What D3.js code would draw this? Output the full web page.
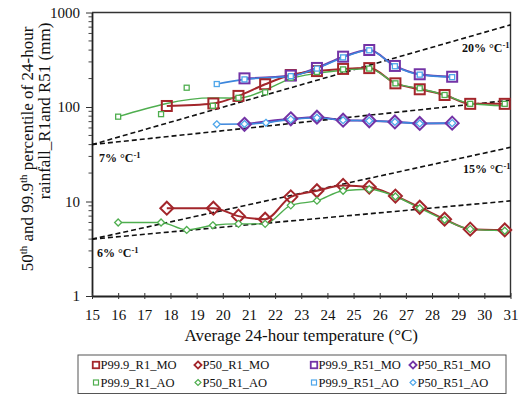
<!DOCTYPE html>
<html>
<head>
<meta charset="utf-8">
<script src="https://cdn.jsdelivr.net/npm/d3@7"></script>
<style>
  html, body { margin: 0; padding: 0; background: #fff; }
  svg { display: block; }
  text { font-family: "Liberation Serif", "Times New Roman", serif; fill: #111; }
</style>
</head>
<body>
<svg id="chart" width="518" height="395"></svg>
<script>
// Bin temperatures (°C)
const tempR1Mo  = [17.86, 19.64, 20.6, 21.62, 22.6, 23.6, 24.6, 25.6, 26.6, 27.53, 28.48, 29.46, 30.78];
const tempR1Ao  = [16.0, 17.64, 18.62, 19.62, 20.6, 21.62, 22.6, 23.6, 24.6, 25.6, 26.6, 27.53, 28.48, 29.46, 30.78];
const tempR51Mo = [20.83, 22.6, 23.6, 24.6, 25.6, 26.58, 27.53, 28.77];
const tempR51AoUpper = [19.77, 20.83, 22.6, 23.6, 24.6, 25.6, 26.58, 27.53, 28.77];
const tempR51AoMedian = [19.77, 20.83, 21.65, 22.6, 23.6, 24.6, 25.6, 26.58, 27.53, 28.77];

// Rainfall percentiles (mm)
const p999R1Mo  = [102.5, 109, 131, 174, 218, 240, 253, 258, 178, 154, 134, 108, 108];
const p50R1Mo   = [8.5, 8.5, 7.0, 6.5, 11.2, 13.0, 14.8, 14.2, 11.4, 8.7, 6.5, 5.1, 5.0];
const p999R1Ao  = [79, 84, 160, 103, 125, 143, 204, 235, 250, 255, 178, 158, 134, 108, 108];
const p50R1Ao   = [6.0, 6.0, 5.0, 5.6, 5.8, 5.8, 9.1, 10.2, 13.0, 13.5, 11.3, 8.5, 6.4, 5.1, 4.9];
const p999R51Mo = [201, 215, 259, 341, 401, 272, 222, 209];
const p50R51Mo  = [65.6, 75, 78, 72.5, 71.5, 69.5, 67, 67.5];
const p999R51Ao = [175, 196, 212, 255, 335, 398, 270, 220, 207];
const p50R51Ao  = [65.6, 66, 68, 74, 77, 72.5, 71.5, 69.5, 67, 67.5];

// Smoothed line for P99.9_R1_AO (the connecting line skips the sparse cool bins)
const trendTempR1Ao = [16.0, 19.62, 20.6, 21.62, 22.6, 23.6, 24.6, 25.6, 26.6, 27.53, 28.48, 29.46, 30.78];
const trendP999R1Ao = [79, 125, 124, 151, 200, 227, 245, 255, 178, 157, 134, 109, 103];

// Clausius-Clapeyron style scaling guides: value at 15 °C and rate per °C
const guideLabels = ["20% °C", "7% °C", "15% °C", "6% °C"];
const guideBase   = [40, 40, 4, 4];
const guideRate   = [0.20, 0.07, 0.15, 0.06];

// Axis ticks
const xTicks = d3.range(15, 32, 1);
const yMajorTicks = [1, 10, 100, 1000];
const yTickLabels = ["1", "10", "100", "1000"];

const svg = d3.select("#chart");
const plot = { left: 92, right: 510.5, top: 12.5, bottom: 296 };

const x = d3.scaleLinear().domain([15, 31]).range([plot.left, plot.right]);
const y = d3.scaleLog().domain([1, 1000]).range([plot.bottom, plot.top]);

const RED = "#a3262b", PURPLE = "#7333a6", GREEN = "#4fae4f", BLUE = "#3d86dc", LBLUE = "#4ea6ea";

// Frame (top and right edges)
svg.append("path")
  .attr("d", `M${plot.left},${plot.top}H${plot.right}V${plot.bottom}`)
  .attr("fill", "none").attr("stroke", "#333").attr("stroke-width", 1.4);

// Y axis with log ticks
const yMinor = [];
for (let d = 1; d < 1000; d *= 10) for (let k = 2; k <= 9; k++) yMinor.push(d * k);
const yAxis = d3.axisLeft(y).tickValues(yMajorTicks)
  .tickFormat((d, i) => yTickLabels[i]).tickSize(6).tickSizeOuter(0);
const gy = svg.append("g").attr("transform", `translate(${plot.left},0)`).call(yAxis);
gy.select(".domain").attr("stroke", "#222").attr("stroke-width", 1.8);
gy.selectAll(".tick line").attr("stroke", "#333").attr("stroke-width", 1);
gy.selectAll(".tick text").attr("font-size", 15).attr("x", -12)
  .style("font-family", "Liberation Serif, serif").attr("fill", "#111");
svg.append("g").selectAll("line").data(yMinor).join("line")
  .attr("x1", plot.left - 3.5).attr("x2", plot.left)
  .attr("y1", d => y(d)).attr("y2", d => y(d))
  .attr("stroke", "#444").attr("stroke-width", 1);

// X axis
const xAxis = d3.axisBottom(x).tickValues(xTicks).tickFormat(d3.format("d"))
  .tickSize(4).tickSizeOuter(0);
const gx = svg.append("g").attr("transform", `translate(0,${plot.bottom})`).call(xAxis);
gx.select(".domain").attr("stroke", "#222").attr("stroke-width", 1.8);
gx.selectAll(".tick line").attr("stroke", "#333").attr("y1", -3).attr("y2", 3);
gx.selectAll(".tick text").attr("font-size", 15).attr("y", 13)
  .style("font-family", "Liberation Serif, serif").attr("fill", "#111");

// Scaling guide lines
const guides = svg.append("g");
guideBase.forEach((b, i) => {
  const end = b * Math.pow(1 + guideRate[i], 31 - 15);
  guides.append("line")
    .attr("x1", x(15)).attr("y1", y(b)).attr("x2", x(31)).attr("y2", y(end))
    .attr("stroke", "#111").attr("stroke-width", 1.6).attr("stroke-dasharray", "5,3");
});
const guidePos = [[462, 52], [99, 162], [463, 173], [97, 257]];
guideLabels.forEach((t, i) => {
  const tx = svg.append("text").attr("x", guidePos[i][0]).attr("y", guidePos[i][1])
    .attr("font-size", 12).attr("font-weight", "bold");
  tx.append("tspan").text(t);
  tx.append("tspan").attr("dy", -4).attr("font-size", 8.5).text("-1");
});

// Series
const line = d3.line().x(d => x(d[0])).y(d => y(d[1])).curve(d3.curveMonotoneX);
const zip = (a, b) => a.map((v, i) => [v, b[i]]);

function drawLine(pts, color, width) {
  svg.append("path").datum(pts).attr("d", line)
    .attr("fill", "none").attr("stroke", color).attr("stroke-width", width);
}
function drawSquares(pts, color, size, sw, fill) {
  svg.append("g").selectAll("rect").data(pts).join("rect")
    .attr("x", d => x(d[0]) - size / 2).attr("y", d => y(d[1]) - size / 2)
    .attr("width", size).attr("height", size)
    .attr("fill", fill).attr("stroke", color).attr("stroke-width", sw);
}
function drawDiamonds(pts, color, r, sw, fill) {
  svg.append("g").selectAll("path").data(pts).join("path")
    .attr("d", d => { const cx = x(d[0]), cy = y(d[1]);
      return `M${cx},${cy - r}L${cx + r},${cy}L${cx},${cy + r}L${cx - r},${cy}Z`; })
    .attr("fill", fill).attr("stroke", color).attr("stroke-width", sw);
}

// connecting lines
drawLine(zip(tempR51Mo, p999R51Mo), PURPLE, 2);
drawLine(zip(tempR51Mo, p50R51Mo), PURPLE, 2);
drawLine(zip(tempR1Mo, p999R1Mo), RED, 2);
drawLine(zip(tempR1Mo, p50R1Mo), RED, 2);
drawLine(zip(trendTempR1Ao, trendP999R1Ao), GREEN, 1.4);
drawLine(zip(tempR1Ao, p50R1Ao), GREEN, 1.4);
drawLine(zip(tempR51AoUpper, p999R51Ao), BLUE, 1.6);
drawLine(zip(tempR51AoMedian, p50R51Ao), BLUE, 1.6);

// markers: model output (large) then observation-based (small)
drawSquares(zip(tempR1Mo, p999R1Mo), RED, 10, 2, "none");
drawDiamonds(zip(tempR1Mo, p50R1Mo), RED, 6.5, 2, "none");
drawSquares(zip(tempR51Mo, p999R51Mo), PURPLE, 10, 2, "none");
drawDiamonds(zip(tempR51Mo, p50R51Mo), PURPLE, 6.5, 2, "none");
drawSquares(zip(tempR1Ao, p999R1Ao), GREEN, 5, 1.3, "#fff");
drawDiamonds(zip(tempR1Ao, p50R1Ao), GREEN, 3.5, 1.3, "#fff");
drawSquares(zip(tempR51AoUpper, p999R51Ao), LBLUE, 5, 1.3, "#fff");
drawDiamonds(zip(tempR51AoMedian, p50R51Ao), LBLUE, 3.5, 1.3, "#fff");

// Axis titles
svg.append("text").attr("x", (plot.left + plot.right) / 2).attr("y", 341)
  .attr("text-anchor", "middle").attr("font-size", 17)
  .text("Average 24-hour temperature (°C)");

const yt1 = svg.append("text").attr("transform", "translate(33,149) rotate(-90)")
  .attr("text-anchor", "middle").attr("font-size", 17);
yt1.append("tspan").text("50");
yt1.append("tspan").attr("dy", -6).attr("font-size", 11).text("th");
yt1.append("tspan").attr("dy", 6).text(" and 99.9");
yt1.append("tspan").attr("dy", -6).attr("font-size", 11).text("th");
yt1.append("tspan").attr("dy", 6).text(" percentile of 24-hour");

svg.append("text").attr("transform", "translate(50,111) rotate(-90)")
  .attr("text-anchor", "middle").attr("font-size", 17)
  .text("rainfall_R1and R51 (mm)");

// Legend
const legend = svg.append("g");
legend.append("rect").attr("x", 78).attr("y", 355).attr("width", 428).attr("height", 38.5)
  .attr("fill", "#fff").attr("stroke", "#555").attr("stroke-width", 1);
const legendNames = ["P99.9_R1_MO", "P50_R1_MO", "P99.9_R51_MO", "P50_R51_MO",
                     "P99.9_R1_AO", "P50_R1_AO", "P99.9_R51_AO", "P50_R51_AO"];
const legendColors = [RED, RED, PURPLE, PURPLE, GREEN, GREEN, LBLUE, LBLUE];
const legendCols = [96, 198, 314, 413];
const legendRows = [365, 382.5];
legendNames.forEach((name, i) => {
  const col = i % 4, row = Math.floor(i / 4);
  const cx = legendCols[col], cy = legendRows[row];
  const big = row === 0, square = col % 2 === 0;
  if (square) {
    const s = big ? 6.5 : 5;
    legend.append("rect").attr("x", cx - s / 2).attr("y", cy - s / 2)
      .attr("width", s).attr("height", s).attr("fill", "#fff")
      .attr("stroke", legendColors[i]).attr("stroke-width", big ? 1.8 : 1.2);
  } else {
    const r = big ? 3.6 : 3;
    legend.append("path")
      .attr("d", `M${cx},${cy - r}L${cx + r},${cy}L${cx},${cy + r}L${cx - r},${cy}Z`)
      .attr("fill", "#fff").attr("stroke", legendColors[i]).attr("stroke-width", big ? 1.8 : 1.2);
  }
  legend.append("text").attr("x", cx + 4.5).attr("y", cy + 4.3)
    .attr("font-size", 12.5).text(name);
});
</script>
</body>
</html>
